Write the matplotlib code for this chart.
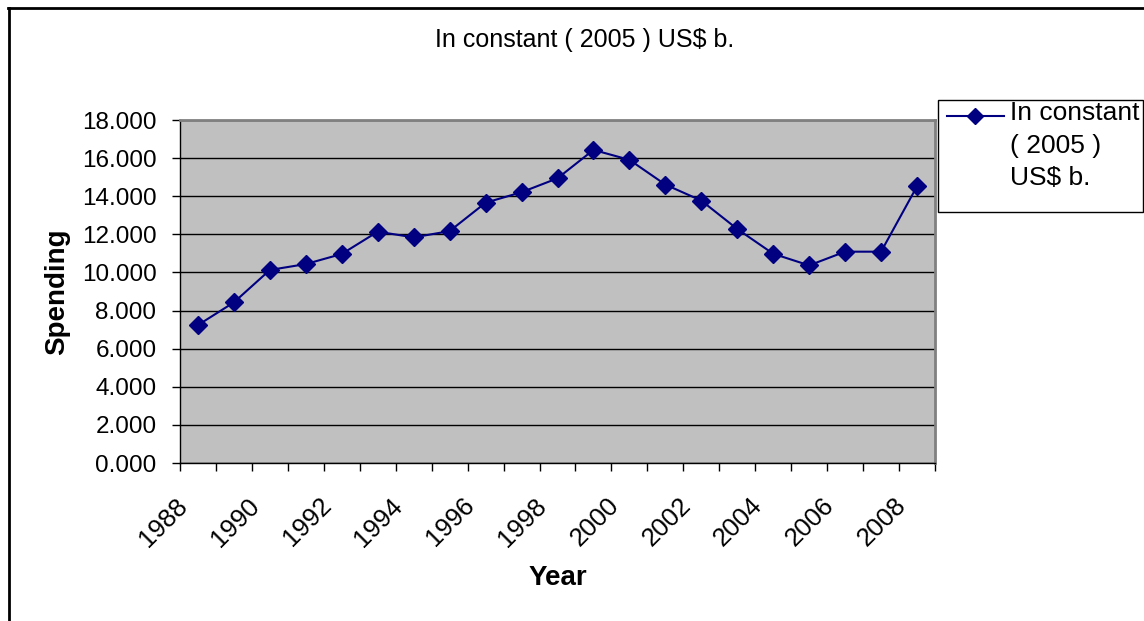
import matplotlib.pyplot as plt
from matplotlib.lines import Line2D
from matplotlib.patches import Rectangle
from matplotlib.ticker import FixedLocator, FormatStrFormatter
from matplotlib.transforms import ScaledTranslation

plt.rcParams["font.family"] = ["Liberation Sans", "DejaVu Sans"]

years = [1988, 1989, 1990, 1991, 1992, 1993, 1994, 1995, 1996, 1997, 1998,
         1999, 2000, 2001, 2002, 2003, 2004, 2005, 2006, 2007, 2008]
spending = [7.24, 8.43, 10.13, 10.44, 10.97, 12.14, 11.84, 12.17, 13.66, 14.21, 14.94,
            16.43, 15.91, 14.61, 13.77, 12.28, 10.98, 10.37, 11.09, 11.09, 14.52]
series_name = "In constant ( 2005 ) US$ b."
legend_text = "In constant\n( 2005 )\nUS$ b."
y_ticks = [0, 2, 4, 6, 8, 10, 12, 14, 16, 18]

W, H = 1144, 621
navy = "#000080"
fig = plt.figure(figsize=(W / 100, H / 100), dpi=100)
ax = fig.add_axes([180 / W, 1 - 463 / H, 755 / W, 343 / H])
ax.set_facecolor("#C0C0C0")

positions = list(range(len(years)))
ax.plot(positions, spending, color=navy, linewidth=1.5,
        marker="D", markersize=9, markerfacecolor=navy,
        markeredgecolor=navy, label=series_name)

ax.set_xlim(-0.5, len(years) - 0.5)
ax.set_ylim(0, 18)
ax.set_yticks(y_ticks)
ax.yaxis.set_major_formatter(FormatStrFormatter("%.3f"))
ax.grid(axis="y", color="black", linewidth=1)
ax.set_axisbelow(True)

# category labels every other year, tick marks at category boundaries
ax.set_xticks(positions[::2])
ax.set_xticklabels([str(y) for y in years[::2]], rotation=45, ha="right",
                   rotation_mode="anchor", fontsize=18.5)
ax.tick_params(axis="x", which="major", length=0, pad=14)
shift = ScaledTranslation(-0.23, -0.11, fig.dpi_scale_trans)
for lbl in ax.get_xticklabels():
    lbl.set_transform(lbl.get_transform() + shift)
ax.xaxis.set_minor_locator(FixedLocator([p - 0.5 for p in positions] + [len(years) - 0.5]))
ax.tick_params(axis="x", which="minor", length=6, width=1, color="black")
ax.tick_params(axis="y", length=6, width=1, labelsize=17.5, pad=11)

for side in ["top", "right"]:
    ax.spines[side].set_color("#808080")
    ax.spines[side].set_linewidth(2)
for side in ["left", "bottom"]:
    ax.spines[side].set_color("black")
    ax.spines[side].set_linewidth(1)

ax.set_xlabel("Year", fontsize=20, fontweight="bold", va="top")
ax.xaxis.set_label_coords(0.5, (463 - 565) / 343)
ax.set_ylabel("Spending", fontsize=20, fontweight="bold")
ax.yaxis.set_label_coords((70 - 180) / 755, 0.5)

fig.text(585 / W, 1 - 40 / H, series_name, ha="center", va="center", fontsize=18)

# legend drawn by hand so the key sits on the first text line
fig.add_artist(Rectangle((938 / W, 1 - 212 / H), 205 / W, 112 / H, transform=fig.transFigure,
                         facecolor="white", edgecolor="black", linewidth=1))
fig.add_artist(Line2D([947 / W, 1004 / W], [1 - 116 / H, 1 - 116 / H], color=navy,
                      linewidth=1.5, transform=fig.transFigure))
fig.add_artist(Line2D([975 / W], [1 - 116 / H], color=navy, marker="D", markersize=8,
                      markerfacecolor=navy, transform=fig.transFigure))
fig.text(1010 / W, 1 - 101 / H, legend_text, ha="left", va="top", fontsize=19,
         linespacing=1.45)

# outer chart frame (top and left edges visible)
fig.add_artist(Line2D([8 / W, 1], [1 - 8 / H, 1 - 8 / H], color="black", linewidth=2,
                      transform=fig.transFigure))
fig.add_artist(Line2D([9 / W, 9 / W], [0, 1 - 8 / H], color="black", linewidth=2,
                      transform=fig.transFigure))

fig.savefig("out.png", dpi=100)
